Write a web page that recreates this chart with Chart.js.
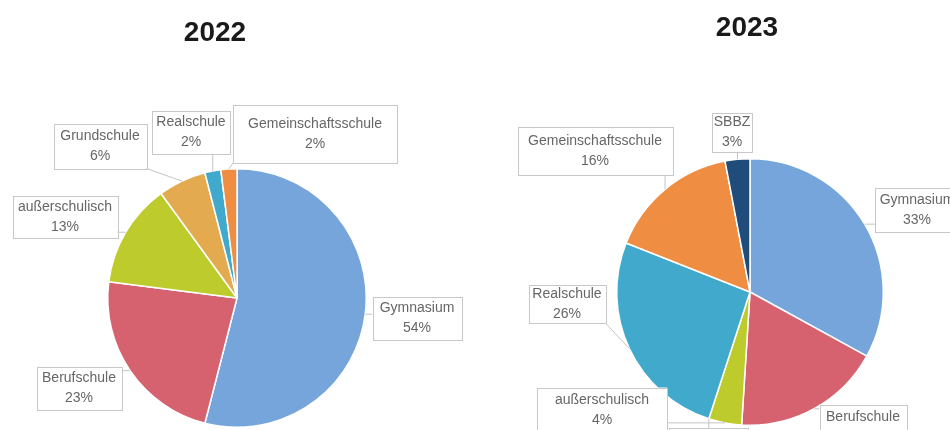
<!DOCTYPE html>
<html>
<head>
<meta charset="utf-8">
<script src="https://cdn.jsdelivr.net/npm/chart.js@4"></script>
<style>
  html, body { margin:0; padding:0; background:#fff; }
  .wrap { display:flex; width:950px; height:430px; overflow:hidden; }
  canvas { display:block; }
</style>
</head>
<body>
<div class="wrap">
  <canvas id="c2022" width="475" height="430"></canvas>
  <canvas id="c2023" width="475" height="430"></canvas>
</div>
<script>
// data
const categories2022 = ['Gymnasium','Berufschule','außerschulisch','Grundschule','Realschule','Gemeinschaftsschule'];
const values2022 = [54, 23, 13, 6, 2, 2];
const categories2023 = ['Gymnasium','Berufschule','außerschulisch','Grundschule','Realschule','Gemeinschaftsschule','SBBZ'];
const values2023 = [33, 18, 4, 0, 26, 16, 3];

const colorOf = {
    'Gymnasium': '#76a5dc',
    'Berufschule': '#d6616f',
    'außerschulisch': '#bdcb2c',
    'Grundschule': '#e3aa50',
    'Realschule': '#41a9cc',
    'Gemeinschaftsschule': '#ef8e42',
    'SBBZ': '#1f4c7b'
};

// label boxes: [dx, dy, w, h] relative to pie centre
const boxes2022 = [[180,20,89,43],[-158,90,85,43],[-172,-81,105,42],[-137,-152,93,45],[-46,-166,78,43],[78,-164,164,58]];
const boxes2023 = [[167,-82,84,44],[113,135,87,45],[-148,118,130,45],[-42,158,79,44],[-183,12,77,38],[-155,-141,155,48],[-18,-160,40,39]];

function calloutPlugin(title, tx, ty, boxes){
    return {
        id:'callouts',
        afterDraw(chart){
            const ctx = chart.ctx;
            ctx.save();
            ctx.fillStyle = '#1a1a1a';
            ctx.font = 'bold 28px "Liberation Sans", Arial, sans-serif';
            ctx.textAlign = 'center'; ctx.textBaseline = 'middle';
            ctx.fillText(title, tx, ty);

            const meta = chart.getDatasetMeta(0);
            const labels = chart.data.labels;
            const vals = chart.data.datasets[0].data;
            meta.data.forEach((arc, i)=>{
                const p = arc.getProps(['x','y','startAngle','endAngle','outerRadius'], true);
                const mid = (p.startAngle + p.endAngle) / 2;
                const ax = p.x + Math.cos(mid) * p.outerRadius;
                const ay = p.y + Math.sin(mid) * p.outerRadius;
                const [dx, dy, w, h] = boxes[i];
                const left = p.x + dx - w/2, top = p.y + dy - h/2;
                // leader line
                const nx = Math.min(Math.max(ax, left), left + w);
                const ny = Math.min(Math.max(ay, top), top + h);
                if(Math.hypot(ax-nx, ay-ny) > 5){
                    ctx.strokeStyle = '#c4c4c4'; ctx.lineWidth = 1;
                    ctx.beginPath(); ctx.moveTo(nx, ny); ctx.lineTo(ax, ay); ctx.stroke();
                }
                ctx.fillStyle = '#fff';
                ctx.fillRect(left, top, w, h);
                ctx.strokeStyle = '#c8c8c8'; ctx.lineWidth = 1;
                ctx.strokeRect(Math.round(left)+0.5, Math.round(top)+0.5, Math.round(w), Math.round(h));
                ctx.fillStyle = '#666';
                ctx.font = '14px "Liberation Sans", Arial, sans-serif';
                ctx.fillText(labels[i], p.x + dx, p.y + dy - 10);
                ctx.fillText(vals[i] + '%', p.x + dx, p.y + dy + 10);
            });
            ctx.restore();
        }
    };
}

function makePie(id, cats, vals, padding, title, tx, ty, boxes){
    return new Chart(document.getElementById(id), {
        type:'pie',
        data:{ labels:cats, datasets:[{ data:vals, backgroundColor:cats.map(c=>colorOf[c]), borderColor:'#fff', borderWidth:1.5 }] },
        options:{
            responsive:false, animation:false,
            layout:{ padding:padding },
            plugins:{ legend:{display:false}, tooltip:{enabled:false} }
        },
        plugins:[calloutPlugin(title, tx, ty, boxes)]
    });
}

makePie('c2022', categories2022, values2022, {left:107, right:108, top:168, bottom:2}, '2022', 215, 33, boxes2022);
makePie('c2023', categories2023, values2023, {left:141, right:66, top:158, bottom:4}, '2023', 272, 28, boxes2023);
</script>
</body>
</html>
